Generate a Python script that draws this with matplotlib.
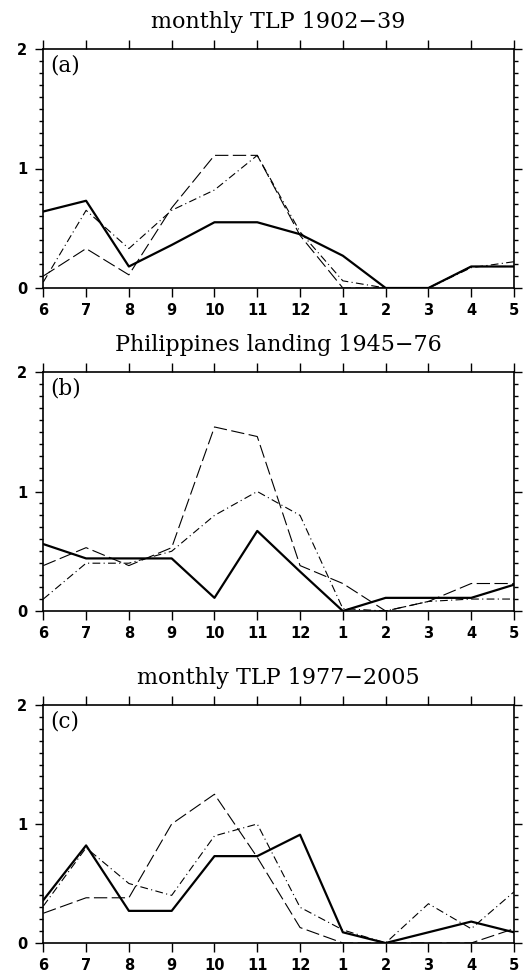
import numpy as np
import matplotlib.pyplot as plt
from matplotlib.ticker import MultipleLocator

months = ['6', '7', '8', '9', '10', '11', '12', '1', '2', '3', '4', '5']

# panel (a) monthly TLP 1902-39
a_solid = [0.64, 0.73, 0.18, 0.36, 0.55, 0.55, 0.45, 0.27, 0, 0, 0.18, 0.18]
a_dash = [0.10, 0.33, 0.11, 0.67, 1.11, 1.11, 0.44, 0, 0, 0, 0.18, 0.18]
a_dashdot = [0.05, 0.65, 0.33, 0.65, 0.82, 1.11, 0.47, 0.06, 0, 0, 0.17, 0.22]

# panel (b) Philippines landing 1945-76
b_solid = [0.56, 0.44, 0.44, 0.44, 0.11, 0.67, 0.33, 0, 0.11, 0.11, 0.11, 0.22]
b_dash = [0.38, 0.53, 0.38, 0.53, 1.54, 1.46, 0.38, 0.23, 0, 0.08, 0.23, 0.23]
b_dashdot = [0.10, 0.40, 0.40, 0.50, 0.80, 1.00, 0.80, 0.02, 0, 0.08, 0.10, 0.10]

# panel (c) monthly TLP 1977-2005
c_solid = [0.36, 0.82, 0.27, 0.27, 0.73, 0.73, 0.91, 0.09, 0, 0.09, 0.18, 0.09]
c_dash = [0.25, 0.38, 0.38, 1.00, 1.25, 0.72, 0.13, 0, 0, 0, 0, 0.12]
c_dashdot = [0.31, 0.80, 0.50, 0.40, 0.90, 1.00, 0.30, 0.11, 0, 0.33, 0.12, 0.43]

titles = ['monthly TLP 1902\u221239', 'Philippines landing 1945\u221276',
          'monthly TLP 1977\u22122005']
labels = ['(a)', '(b)', '(c)']
panels = [(a_solid, a_dash, a_dashdot),
          (b_solid, b_dash, b_dashdot),
          (c_solid, c_dash, c_dashdot)]

W, H = 530, 973
fig = plt.figure(figsize=(W / 100, H / 100), dpi=100)

# axes top/bottom in pixels
boxes = [(49, 288), (372, 611), (705, 943)]
left, right = 43.3, 514

x = np.arange(len(months))
for (top, bot), title, lab, (s, d, dd) in zip(boxes, titles, labels, panels):
    ax = fig.add_axes([left / W, (H - bot) / H, (right - left) / W, (bot - top) / H])
    ax.plot(x, s, color='black', lw=1.6, ls='-')
    ax.plot(x, d, color='black', lw=0.8, ls=(0, (12, 4)))
    ax.plot(x, dd, color='black', lw=0.8, ls=(0, (7, 3, 1, 3)))

    ax.set_xlim(0, 11)
    ax.set_ylim(0, 2)
    ax.set_xticks(x)
    ax.set_xticklabels(months)
    ax.set_yticks([0, 1, 2])
    ax.yaxis.set_minor_locator(MultipleLocator(0.1))
    ax.tick_params(which='both', direction='out', top=True, right=True,
                   width=1.0, labelsize=10.5)
    ax.tick_params(axis='x', which='major', length=6.5, pad=4)
    ax.tick_params(axis='y', which='major', length=5.5, pad=6)
    ax.tick_params(axis='y', which='minor', length=3)
    for t in ax.get_xticklabels() + ax.get_yticklabels():
        t.set_fontweight('bold')
    for sp in ax.spines.values():
        sp.set_linewidth(1.2)

    ax.text(0.5, 1 + 21 / (bot - top), title, transform=ax.transAxes,
            ha='center', va='baseline', fontsize=16, family='DejaVu Serif')
    ax.text(0.015, 0.975, lab, transform=ax.transAxes, ha='left', va='top',
            fontsize=15.5, family='DejaVu Serif')

fig.savefig('out.png', dpi=100)
